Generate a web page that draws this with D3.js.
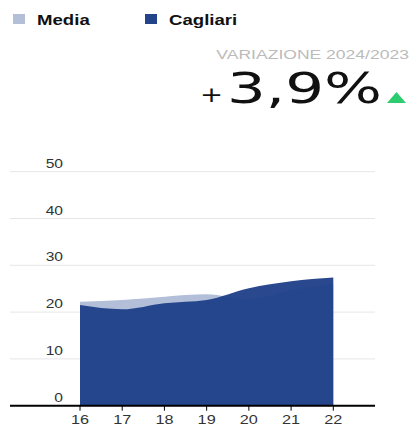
<!DOCTYPE html>
<html>
<head>
<meta charset="utf-8">
<script src="https://cdn.jsdelivr.net/npm/d3@7"></script>
<style>
  body { margin: 0; background: #fff; font-family: "Liberation Sans", Arial, sans-serif; }
</style>
</head>
<body>
<div id="chart"></div>
<script>
// Years (2016-2022) and values
const years = [16, 17, 18, 19, 20, 21, 22];
const media = [22.2, 22.6, 23.3, 23.8, 22.7, 24.7, 26.1];
const cagliari = [21.5, 20.6, 21.9, 22.6, 25.1, 26.6, 27.4];
const yTicks = [0, 10, 20, 30, 40, 50];
const variazione = "+3,9%";

const width = 410, height = 426;
const stretch = 1.3; // the text in the original is drawn wide

const svg = d3.select("#chart").append("svg")
    .attr("width", width)
    .attr("height", height);

// small helper: text placed at (x, y) and stretched horizontally
function wideText(g, x, y, sx) {
    return g.append("text")
        .attr("transform", `translate(${x},${y}) scale(${sx},1)`);
}

// Legend
const legendItems = [
    { name: "Media", color: "#b3bfd9", x: 13 },
    { name: "Cagliari", color: "#23438a", x: 145 }
];
legendItems.forEach(d => {
    svg.append("rect")
        .attr("x", d.x)
        .attr("y", 14)
        .attr("width", 12)
        .attr("height", 10)
        .style("fill", d.color);
    wideText(svg, d.x + 24, 25, 1.33)
        .style("font-size", "14px")
        .style("font-weight", "bold")
        .style("fill", "#111")
        .text(d.name);
});

// Header with the yearly change
wideText(svg, 409, 58.5, stretch)
    .attr("text-anchor", "end")
    .style("font-size", "13.5px")
    .style("fill", "#bbb")
    .text("VARIAZIONE 2024/2023");

wideText(svg, 200, 102, 1.25)
    .style("font-family", "DejaVu Sans, sans-serif")
    .style("font-size", "22px")
    .style("fill", "#111")
    .text(variazione.slice(0, 1));

svg.append("text")
    .attr("x", 227)
    .attr("y", 103)
    .attr("textLength", 155)
    .attr("lengthAdjust", "spacingAndGlyphs")
    .style("font-family", "DejaVu Sans, sans-serif")
    .style("font-size", "43px")
    .style("fill", "#111")
    .text(variazione.slice(1));

svg.append("path")
    .attr("d", "M387,103 L406,103 L396.5,92 Z")
    .style("fill", "#2ecc71");

// Scales
const x = d3.scaleLinear().domain([16, 22]).range([80, 333.3]);
const y = d3.scaleLinear().domain([0, 50]).range([405.7, 171.7]);

// Gridlines
svg.append("g")
    .selectAll("line")
    .data(yTicks.slice(1))
    .enter().append("line")
    .attr("x1", 10)
    .attr("x2", 375)
    .attr("y1", d => y(d))
    .attr("y2", d => y(d))
    .style("stroke", "#e6e6e6")
    .style("stroke-width", 1);

// Y labels above gridlines
yTicks.forEach(v => {
    wideText(svg, 63, y(v) - 4, stretch)
        .attr("text-anchor", "end")
        .style("font-size", "12px")
        .style("fill", "#333")
        .text(v);
});

// Areas
const rows = years.map((yr, i) => ({ yr, media: media[i], cagliari: cagliari[i] }));

const areaFor = key => d3.area()
    .curve(d3.curveMonotoneX)
    .x(d => x(d.yr))
    .y0(y(0))
    .y1(d => y(d[key]));

svg.append("path")
    .datum(rows)
    .attr("d", areaFor("media"))
    .style("fill", "#b3bfd9");

svg.append("path")
    .datum(rows)
    .attr("d", areaFor("cagliari"))
    .style("fill", "#1e3e88")
    .style("opacity", 0.95);

// X axis
const xAxis = svg.append("g")
    .attr("transform", `translate(0,${y(0)})`);
xAxis.append("line")
    .attr("x1", 10)
    .attr("x2", 375)
    .style("stroke", "#000")
    .style("stroke-width", 2);
xAxis.selectAll(".tick")
    .data(years)
    .enter().append("line")
    .attr("x1", d => x(d))
    .attr("x2", d => x(d))
    .attr("y1", 0)
    .attr("y2", 5)
    .style("stroke", "#000")
    .style("stroke-width", 1);
years.forEach(v => {
    wideText(xAxis, x(v), 18.5, stretch)
        .attr("text-anchor", "middle")
        .style("font-size", "12.5px")
        .style("fill", "#333")
        .text(v);
});
</script>
</body>
</html>
